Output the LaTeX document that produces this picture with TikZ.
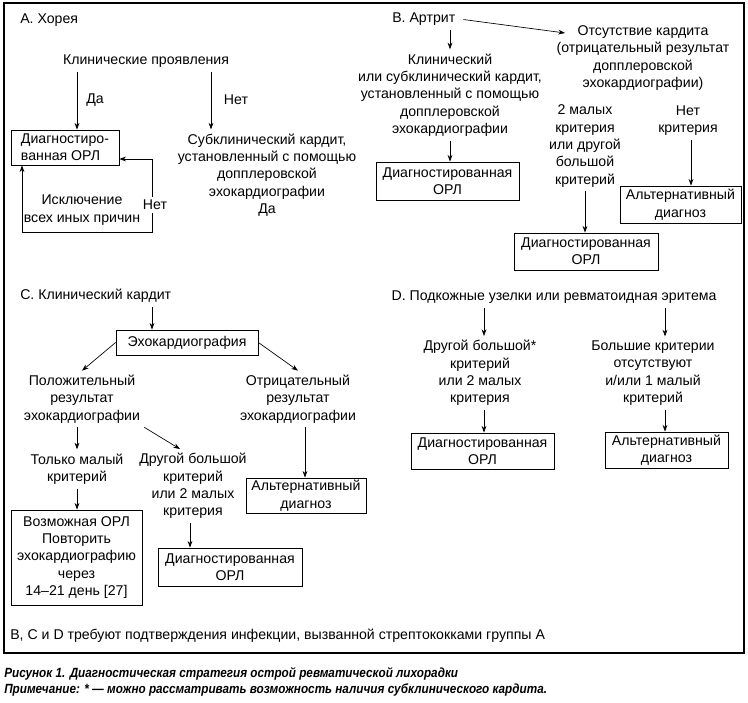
\documentclass[tikz,border=0pt]{standalone}
\usepackage{fontspec}
\setmainfont{Liberation Sans}
\newfontfamily\capfont[FakeStretch=0.88]{Liberation Sans}
\usetikzlibrary{arrows.meta}
\begin{document}
\begin{tikzpicture}[x=0.75pt,y=-0.75pt,
  every node/.style={font=\fontsize{10.6}{13}\selectfont, inner sep=3pt},
  txt/.style={align=center},
  bx/.style n args={2}{draw, line width=0.6pt, align=center, minimum width=#1*0.75pt, minimum height=#2*0.75pt, inner sep=0pt},
  arr/.style={line width=0.5pt, -{Stealth[length=5pt,width=3.6pt]}},
  darr/.style={line width=0.5pt, {Stealth[length=5pt,width=3.6pt]}-{Stealth[length=5pt,width=3.6pt]}}]
\useasboundingbox (0,0) rectangle (748,702);
\draw[line width=0.8pt] (4,3) rectangle (744,653);
% x positions of vertical connectors
\coordinate (xA1) at (77,0); \coordinate (xA2) at (211,0);
\coordinate (xB1) at (450,0); \coordinate (xB2) at (585,0); \coordinate (xB3) at (691,0);
\coordinate (xC1) at (152,0); \coordinate (xC2) at (77,0); \coordinate (xC3) at (180,0);
\coordinate (xC4) at (190,0); \coordinate (xC5) at (305,0);
\coordinate (xD1) at (484,0); \coordinate (xD2) at (665,0);
% ---------- A
\node[anchor=west] (Ahead) at (16,20) {А. Хорея};
\node (Aklin) at (146,61) {Клинические проявления};
\node[bx={108}{35}, align=left] (Abox) at (65,147.5) {Диагностиро-\\ванная ОРЛ};
\node[txt] (Asub) at (267,175) {Субклинический кардит,\\установленный с помощью\\допплеровской\\эхокардиографии\\Да};
\node[txt] (Aexc) at (82,210) {Исключение\\всех иных причин};
\node (Ada) at (95,100) {Да};
\node (Anet) at (236,100) {Нет};
\draw[arr] (Aklin.south -| xA1) -- (Abox.north -| xA1);
\draw[arr] (Aklin.south -| xA2) -- (Asub.north -| xA2);
\coordinate (Lb) at (22,232); \coordinate (Rb) at (152,232); \coordinate (Rt) at (152,159);
\draw[darr] (Abox.south -| Lb) -- (Lb) -- (Rb) -- (Rt) -- (Abox.east |- Rt);
\node[fill=white, inner sep=2pt] (Anet2) at (155,205) {Нет};
% ---------- B
\node[anchor=west] (Bhead) at (388,19) {В. Артрит};
\node[txt] (Bcard) at (450,95) {Клинический\\или субклинический кардит,\\установленный с помощью\\допплеровской\\эхокардиографии};
\node[txt] (Babs) at (643,58) {Отсутствие кардита\\(отрицательный результат\\допплеровской\\эхокардиографии)};
\coordinate (Bt) at (565,33);
\draw[arr, shorten <=3pt] (Bhead.east) -- (Bt);
\draw[arr] (Bhead.south -| xB1) -- (Bcard.north -| xB1);
\node[bx={143}{38}] (Bbox1) at (447.5,181) {Диагностированная\\ОРЛ};
\draw[arr] (Bcard.south -| xB1) -- (Bbox1.north -| xB1);
\node[txt] (B2m) at (585,146) {2 малых\\критерия\\или другой\\большой\\критерий};
\node[bx={144}{37}] (Bbox2) at (586,251.5) {Диагностированная\\ОРЛ};
\draw[arr] (B2m.south -| xB2) -- (Bbox2.north -| xB2);
\node[txt] (Bnet) at (688,120.5) {Нет\\критерия};
\node[bx={121}{37}] (Balt) at (680.5,204.5) {Альтернативный\\диагноз};
\draw[arr] (Bnet.south -| xB3) -- (Balt.north -| xB3);
% ---------- C
\node[anchor=west] (Chead) at (16,296) {С. Клинический кардит};
\node[bx={142}{25}] (Cecho) at (187,342.5) {Эхокардиография};
\draw[arr] (Chead.south -| xC1) -- (Cecho.north -| xC1);
\node[txt] (Cpos) at (82,399) {Положительный\\результат\\эхокардиографии};
\node[txt] (Cneg) at (298,399) {Отрицательный\\результат\\эхокардиографии};
\draw[arr] (Cecho.west) -- (Cpos.north);
\draw[arr] (Cecho.east) -- (Cneg.north);
\node[txt] (Conly) at (77,469) {Только малый\\критерий};
\node[txt] (Cother) at (193,486) {Другой большой\\критерий\\или 2 малых\\критерия};
\draw[arr] (Cpos.south -| xC2) -- (Conly.north -| xC2);
\draw[arr] (Cpos.south east) -- (Cother.north -| xC3);
\node[bx={131}{95}] (Cposs) at (76.5,557.5) {Возможная ОРЛ\\Повторить\\эхокардиографию\\через\\14–21 день [27]};
\draw[arr] (Conly.south -| xC2) -- (Cposs.north -| xC2);
\node[bx={144}{38}] (Cdiag) at (230,567) {Диагностированная\\ОРЛ};
\draw[arr] (Cother.south -| xC4) -- (Cdiag.north -| xC4);
\node[bx={120}{35}] (Calt) at (306,495.5) {Альтернативный\\диагноз};
\draw[arr] (Cneg.south -| xC5) -- (Calt.north -| xC5);
% ---------- D
\node (Dhead) at (554,297) {D. Подкожные узелки или ревматоидная эритема};
\node[txt] (Dother) at (480,373) {Другой большой*\\критерий\\или 2 малых\\критерия};
\node[txt] (Dnone) at (653,373) {Большие критерии\\отсутствуют\\и/или 1 малый\\критерий};
\draw[arr] (Dhead.south -| xD1) -- (Dother.north -| xD1);
\draw[arr] (Dhead.south -| xD2) -- (Dnone.north -| xD2);
\node[bx={143}{36}] (Ddiag) at (482.5,451) {Диагностированная\\ОРЛ};
\node[bx={123}{36}] (Dalt) at (666.5,450) {Альтернативный\\диагноз};
\draw[arr] (Dother.south -| xD1) -- (Ddiag.north -| xD1);
\draw[arr] (Dnone.south -| xD2) -- (Dalt.north -| xD2);
% ---------- footer
\node[anchor=west] (foot) at (6,636) {В, С и D требуют подтверждения инфекции, вызванной стрептококками группы А};
\node[anchor=west, font={\fontsize{10}{12}\capfont\bfseries\itshape}] (cap1) at (0,674) {Рисунок 1. Диагностическая стратегия острой ревматической лихорадки};
\node[anchor=west, font={\fontsize{10}{12}\capfont\bfseries\itshape}] (cap2) at (0,690) {Примечание: * — можно рассматривать возможность наличия субклинического кардита.};
\end{tikzpicture}
\end{document}
